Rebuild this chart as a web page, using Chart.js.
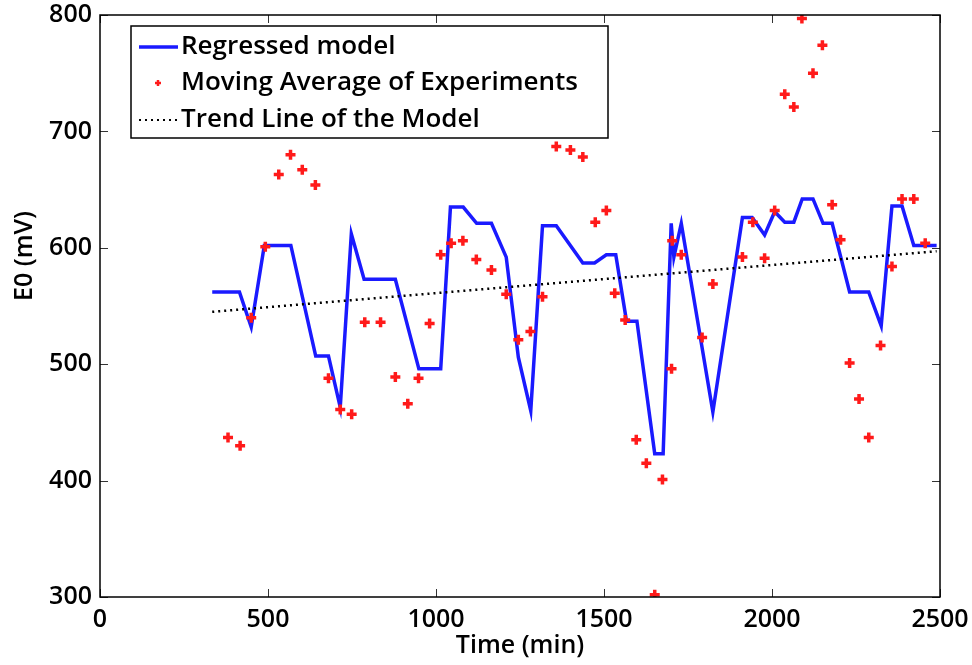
<!DOCTYPE html>
<html>
<head>
<meta charset="utf-8">
<script src="https://cdn.jsdelivr.net/npm/chart.js@4.4.1/dist/chart.umd.min.js"></script>
<style>
  html, body { margin: 0; padding: 0; background: #fff; }
  #box { width: 972px; height: 665px; }
</style>
</head>
<body>
<div id="box"><canvas id="grafico"></canvas></div>
<script>
/* Dados */
const modeloX = [334, 415, 450, 489, 568, 642, 680, 715, 748, 786, 879, 949, 1014, 1043, 1081,
  1121, 1165, 1209, 1245, 1282, 1317, 1358, 1437, 1472, 1507, 1535, 1567, 1598, 1651, 1676,
  1700, 1708, 1730, 1824, 1912, 1941, 1978, 2008, 2038, 2065, 2090, 2122, 2152, 2179, 2231,
  2288, 2325, 2357, 2387, 2422, 2490];
const modeloY = [562, 562, 532, 602, 602, 507, 507, 463, 612, 573, 573, 496, 496, 635, 635,
  621, 621, 592, 506, 460, 619, 619, 587, 587, 594, 594, 537, 537, 423, 423,
  621, 592, 621, 459, 626, 626, 611, 631, 622, 622, 642, 642, 621, 621, 562,
  562, 533, 636, 636, 602, 602];

const mediaX = [381, 417, 450, 492, 532, 567, 602, 641, 680, 715, 749, 788, 835, 879, 916,
  948, 981, 1014, 1045, 1080, 1120, 1165, 1209, 1245, 1281, 1317, 1358, 1400, 1437, 1474,
  1507, 1532, 1563, 1596, 1626, 1651, 1674, 1701, 1703, 1730, 1792, 1824, 1912, 1943, 1978,
  2008, 2038, 2065, 2089, 2122, 2150, 2179, 2204, 2231, 2259, 2288, 2323, 2357, 2387, 2422, 2456];
const mediaY = [437, 430, 540, 601, 663, 680, 667, 654, 488, 461, 457, 536, 536, 489, 466,
  488, 535, 594, 604, 606, 590, 581, 560, 521, 528, 558, 687, 684, 678, 622,
  632, 561, 538, 435, 415, 302, 401, 496, 606, 594, 523, 569, 592, 622, 591,
  632, 732, 721, 797, 750, 774, 637, 607, 501, 470, 437, 516, 584, 642, 642, 604];

const tendenciaX = [334, 2490];
const tendenciaY = [545, 597];

const ticksX = [0, 500, 1000, 1500, 2000, 2500];
const ticksY = [300, 400, 500, 600, 700, 800];

const nomes = ['Regressed model', 'Moving Average of Experiments', 'Trend Line of the Model'];

const fonte = '"Open Sans", "DejaVu Sans", sans-serif';

function pares(xs, ys) {
  return xs.map((x, i) => ({ x: x, y: ys[i] }));
}

/* Ticks internos e moldura, estilo MATLAB */
const molduraPlugin = {
  id: 'moldura',
  afterDatasetsDraw(chart) {
    const ctx = chart.ctx;
    const a = chart.chartArea;
    const sx = chart.scales.x, sy = chart.scales.y;
    ctx.save();
    ctx.strokeStyle = '#333';
    ctx.lineWidth = 1;
    ctx.beginPath();
    ticksX.forEach(v => {
      const p = Math.round(sx.getPixelForValue(v)) + 0.5;
      ctx.moveTo(p, a.bottom); ctx.lineTo(p, a.bottom - 8);
      ctx.moveTo(p, a.top); ctx.lineTo(p, a.top + 8);
    });
    ticksY.forEach(v => {
      const p = Math.round(sy.getPixelForValue(v)) + 0.5;
      ctx.moveTo(a.left, p); ctx.lineTo(a.left + 8, p);
      ctx.moveTo(a.right, p); ctx.lineTo(a.right - 8, p);
    });
    ctx.stroke();
    ctx.strokeStyle = '#000';
    ctx.lineWidth = 1.5;
    ctx.strokeRect(a.left, a.top, a.right - a.left, a.bottom - a.top);
    ctx.restore();
  },
  afterDraw(chart) {
    const ctx = chart.ctx;
    const a = chart.chartArea;
    ctx.save();
    /* título do eixo Y */
    ctx.translate(25, 256);
    ctx.rotate(-Math.PI / 2);
    ctx.fillStyle = '#000';
    ctx.font = '600 25px ' + fonte;
    ctx.textAlign = 'center';
    ctx.textBaseline = 'middle';
    ctx.fillText('E0 (mV)', 0, 0);
    ctx.restore();

    /* legenda dentro da área */
    const lx = a.left + 31, ly = a.top + 11, lw = 477, lh = 112;
    ctx.save();
    ctx.fillStyle = '#fff';
    ctx.fillRect(lx, ly, lw, lh);
    ctx.strokeStyle = '#000';
    ctx.lineWidth = 1.5;
    ctx.strokeRect(lx, ly, lw, lh);
    const ds = chart.data.datasets;
    const linhas = [ly + 21, ly + 57, ly + 94];
    ctx.font = '600 26px ' + fonte;
    ctx.textBaseline = 'middle';
    ctx.fillStyle = '#000';
    nomes.forEach((n, i) => ctx.fillText(n, lx + 50, linhas[i]));
    ctx.lineWidth = ds[0].borderWidth;
    ctx.strokeStyle = ds[0].borderColor;
    ctx.beginPath();
    ctx.moveTo(lx + 8, linhas[0]); ctx.lineTo(lx + 47, linhas[0]);
    ctx.stroke();
    ctx.strokeStyle = ds[1].borderColor;
    ctx.lineWidth = 2.5;
    ctx.beginPath();
    ctx.moveTo(lx + 24, linhas[1]); ctx.lineTo(lx + 30, linhas[1]);
    ctx.moveTo(lx + 27, linhas[1] - 3); ctx.lineTo(lx + 27, linhas[1] + 3);
    ctx.stroke();
    ctx.strokeStyle = '#000';
    ctx.lineWidth = 2;
    ctx.setLineDash(ds[2].borderDash);
    ctx.beginPath();
    ctx.moveTo(lx + 8, linhas[2]); ctx.lineTo(lx + 47, linhas[2]);
    ctx.stroke();
    ctx.restore();
  }
};

const ctx = document.getElementById('grafico');
new Chart(ctx, {
  type: 'scatter',
  data: {
    datasets: [
      {
        label: nomes[0],
        data: pares(modeloX, modeloY),
        showLine: true,
        borderColor: '#1a1aff',
        backgroundColor: '#1a1aff',
        borderWidth: 3.5,
        pointRadius: 0,
        tension: 0,
        order: 2
      },
      {
        label: nomes[1],
        data: pares(mediaX, mediaY),
        showLine: false,
        pointStyle: 'cross',
        pointRadius: 5,
        borderWidth: 3.5,
        borderColor: '#ff1a1a',
        backgroundColor: '#ff1a1a',
        order: 1
      },
      {
        label: nomes[2],
        data: pares(tendenciaX, tendenciaY),
        showLine: true,
        borderColor: '#000',
        borderWidth: 2.5,
        borderDash: [2, 4],
        pointRadius: 0,
        order: 0
      }
    ]
  },
  options: {
    responsive: true,
    maintainAspectRatio: false,
    animation: false,
    events: [],
    layout: { padding: { top: 15, right: 32, left: 0, bottom: 0 } },
    plugins: { legend: { display: false }, tooltip: { enabled: false } },
    scales: {
      x: {
        type: 'linear',
        min: 0, max: 2500,
        afterBuildTicks: s => { s.ticks = ticksX.map(v => ({ value: v })); },
        afterFit: s => { s.height = 68; s.paddingLeft = 0; s.paddingRight = 0; },
        grid: { display: false, drawTicks: false },
        border: { display: false },
        ticks: { color: '#000', padding: 8, font: { family: fonte, size: 25, weight: '600' }, callback: v => String(v) },
        title: { display: true, text: 'Time (min)', color: '#000', padding: { top: -4 }, font: { family: fonte, size: 25, weight: '600' } }
      },
      y: {
        type: 'linear',
        min: 300, max: 800,
        afterBuildTicks: s => { s.ticks = ticksY.map(v => ({ value: v })); },
        afterFit: s => { s.width = 100; s.paddingTop = 0; s.paddingBottom = 0; },
        grid: { display: false, drawTicks: false },
        border: { display: false },
        ticks: { color: '#000', padding: 8, font: { family: fonte, size: 25, weight: '600' }, callback: v => String(v) }
      }
    }
  },
  plugins: [molduraPlugin]
});
</script>
</body>
</html>
